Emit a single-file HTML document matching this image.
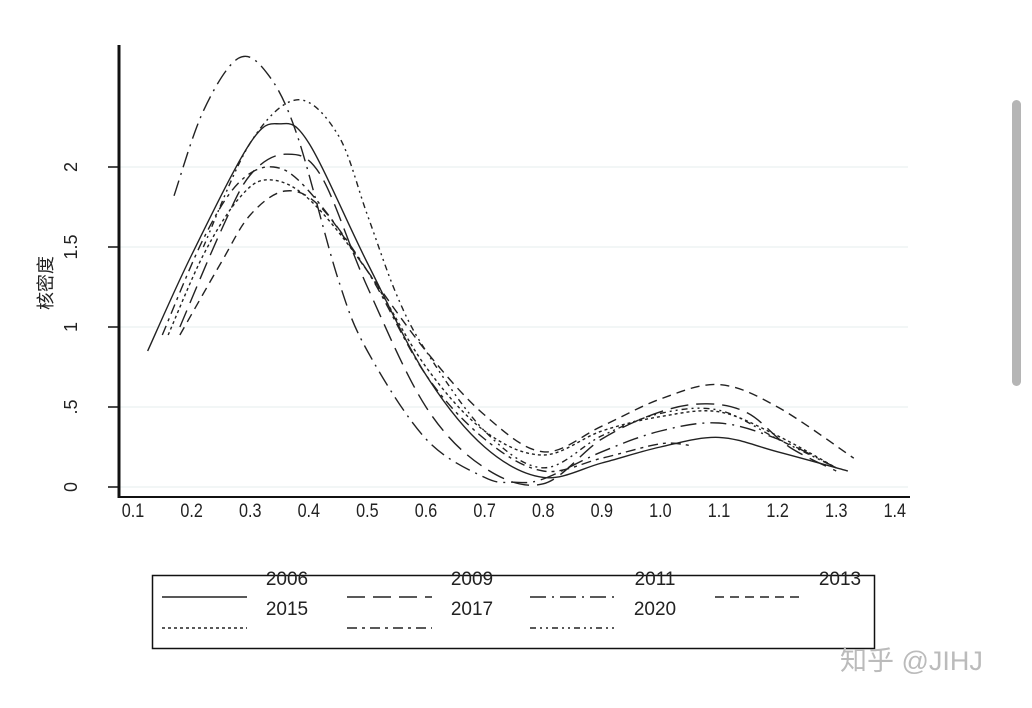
<!DOCTYPE html>
<html><head><meta charset="utf-8"><style>
body{margin:0;background:#fff;width:1032px;height:703px;overflow:hidden;font-family:"Liberation Sans","Noto Sans CJK SC",sans-serif}
</style></head><body>
<svg id="chart" width="1032" height="703" xmlns="http://www.w3.org/2000/svg" font-family="Liberation Sans, Noto Sans CJK SC, sans-serif">
<g id="grid"></g><g id="series"></g><g id="axes"></g>
<rect x="152.5" y="575.5" width="722" height="73" fill="none" stroke="#111" stroke-width="1.5"/>
<g id="legend"></g>
<text transform="translate(52,283) rotate(-90)" text-anchor="middle" font-size="18" fill="#222">核密度</text>
<text x="840" y="670" font-size="27" fill="#bbb">知乎 @JIHJ</text>
<rect x="1012" y="100" width="9" height="286" rx="4.5" fill="#b5b5b5"/>
</svg>
<script>
const xTicks=[0.1,0.2,0.3,0.4,0.5,0.6,0.7,0.8,0.9,1.0,1.1,1.2,1.3,1.4];
const xTickLabels=["0.1","0.2","0.3","0.4","0.5","0.6","0.7","0.8","0.9","1.0","1.1","1.2","1.3","1.4"];
const yTicks=[0,0.5,1,1.5,2];
const yTickLabels=["0",".5","1","1.5","2"];
const years=["2006","2009","2011","2013","2015","2017","2020"];
const xs2006=[0.125,0.2,0.3,0.35,0.4,0.5,0.6,0.7,0.8,0.9,1.0,1.1,1.2,1.32];
const ys2006=[0.85,1.45,2.15,2.27,2.15,1.4,0.7,0.25,0.06,0.15,0.25,0.31,0.22,0.1];
const xs2009=[0.18,0.25,0.3,0.36,0.42,0.5,0.6,0.7,0.8,0.9,1.0,1.08,1.15,1.22,1.3];
const ys2009=[1.0,1.6,1.95,2.08,1.95,1.25,0.5,0.12,0.02,0.3,0.47,0.52,0.46,0.25,0.1];
const xs2011=[0.17,0.22,0.28,0.33,0.38,0.45,0.5,0.6,0.7,0.75,0.8,0.9,1.0,1.1,1.2,1.3];
const ys2011=[1.82,2.35,2.68,2.58,2.2,1.3,0.85,0.3,0.06,0.03,0.05,0.22,0.35,0.4,0.3,0.12];
const xs2013=[0.18,0.25,0.3,0.36,0.42,0.5,0.6,0.7,0.8,0.9,1.0,1.1,1.2,1.33];
const ys2013=[0.95,1.4,1.7,1.85,1.75,1.35,0.85,0.45,0.22,0.38,0.55,0.64,0.5,0.18];
const xs2015=[0.16,0.22,0.28,0.33,0.4,0.5,0.6,0.7,0.8,0.9,1.0,1.1,1.2,1.3];
const ys2015=[0.95,1.45,1.8,1.92,1.8,1.35,0.75,0.35,0.2,0.35,0.44,0.47,0.32,0.12];
const xs2017=[0.15,0.22,0.28,0.34,0.4,0.5,0.6,0.7,0.8,0.9,1.0,1.05];
const ys2017=[0.95,1.55,1.9,2.0,1.85,1.35,0.7,0.3,0.1,0.18,0.27,0.26];
const xs2020=[0.22,0.3,0.38,0.45,0.5,0.55,0.6,0.7,0.8,0.9,1.0,1.1,1.2,1.3];
const ys2020=[1.5,2.15,2.42,2.2,1.7,1.2,0.85,0.35,0.12,0.32,0.46,0.48,0.3,0.12];
const seriesX=[xs2006,xs2009,xs2011,xs2013,xs2015,xs2017,xs2020];
const seriesY=[ys2006,ys2009,ys2011,ys2013,ys2015,ys2017,ys2020];
const dashes=["","18,8","16,6,2,6","9,6","3,3","10,5,3,5","6,4,2,4,2,4"];
const NS="http://www.w3.org/2000/svg";
const X=v=>133+(v-0.1)*586;
const Y=v=>487-v*160;
function mk(t,a,p){const e=document.createElementNS(NS,t);for(const k in a)e.setAttribute(k,a[k]);p.appendChild(e);return e;}
const grid=document.getElementById('grid'),axes=document.getElementById('axes'),ser=document.getElementById('series'),leg=document.getElementById('legend');
yTicks.forEach((v,i)=>{
 const g=mk('line',{x1:119,x2:908,y1:Y(v),y2:Y(v),stroke:'#eef4f4','stroke-width':1.5},grid);
 
 
 const t=mk('line',{x1:108,x2:119,y1:Y(v),y2:Y(v),stroke:'#111','stroke-width':1.5},axes);
 
 
 const l=mk('text',{transform:`translate(77,${Y(v)}) rotate(-90)`,'text-anchor':'middle','font-size':18,fill:'#222'},axes);
 l.textContent=yTickLabels[i];
 
 
});
const ya=mk('line',{x1:119,x2:119,y1:45,y2:498,stroke:'#111','stroke-width':3},axes);


const xa=mk('line',{x1:119,x2:910,y1:497,y2:497,stroke:'#111','stroke-width':2},axes);


xTicks.forEach((v,i)=>{
 const l=mk('text',{transform:`translate(${X(v)},517) scale(0.85,1)`,'text-anchor':'middle','font-size':19,fill:'#222'},axes);
 l.textContent=xTickLabels[i];
 
 
});
function smooth(xa,ya){const p=xa.map((x,i)=>[X(x),Y(ya[i])]);let d=`M${p[0][0]},${p[0][1]}`;
 for(let i=0;i<p.length-1;i++){const p0=p[i-1]||p[i],p1=p[i],p2=p[i+1],p3=p[i+2]||p2;
 d+=` C${p1[0]+(p2[0]-p0[0])/6},${p1[1]+(p2[1]-p0[1])/6} ${p2[0]-(p3[0]-p1[0])/6},${p2[1]-(p3[1]-p1[1])/6} ${p2[0]},${p2[1]}`;}return d;}
seriesX.forEach((xs,i)=>{
 const p=mk('path',{d:smooth(xs,seriesY[i]),fill:'none',stroke:'#222','stroke-width':1.4,'stroke-dasharray':dashes[i]},ser);
 
 
});
years.forEach((yr,i)=>{
 const col=i%4,row=Math.floor(i/4);
 const cx=[162,347,530,715][col],ty=[585,615][row],ly=[597,628][row];
 const t=mk('text',{x:cx+125,y:ty,'text-anchor':'middle','font-size':19,fill:'#222'},leg);
 t.textContent=yr;
 
 
 const l=mk('line',{x1:cx,x2:cx+85,y1:ly,y2:ly,stroke:'#222','stroke-width':1.4,'stroke-dasharray':dashes[i]},leg);
 
 
});
</script>
</body></html>
